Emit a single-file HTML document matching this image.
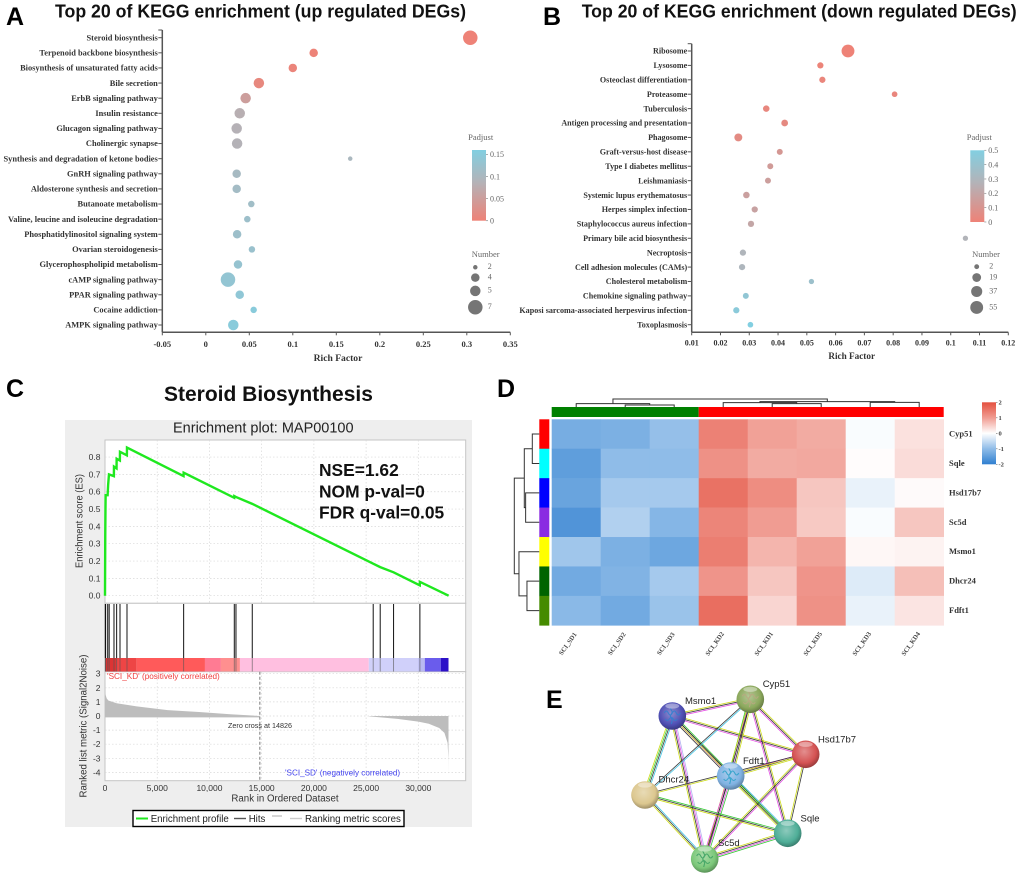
<!DOCTYPE html>
<html lang="en">
<head>
<meta charset="utf-8">
<title>KEGG enrichment, GSEA, heatmap and network figure</title>
<style>
html,body{margin:0;padding:0;background:#fff;}
svg{display:block;filter:blur(0.35px);}
.sans{font-family:"Liberation Sans",Arial,sans-serif;}
.serif{font-family:"Liberation Serif","Times New Roman",serif;}
</style>
</head>
<body>
<svg id="figure" xmlns="http://www.w3.org/2000/svg" width="1020" height="880" viewBox="0 0 1020 880">
  <defs>
    <linearGradient id="padjGrad" x1="0" y1="1" x2="0" y2="0">
      <stop offset="0" stop-color="#ee8277"/>
      <stop offset="0.55" stop-color="#b3b3b8"/>
      <stop offset="1" stop-color="#82cfe1"/>
    </linearGradient>
    <linearGradient id="heatGrad" x1="0" y1="0" x2="0" y2="1">
      <stop offset="0" stop-color="#e4503f"/>
      <stop offset="0.25" stop-color="#f09c92"/>
      <stop offset="0.5" stop-color="#ffffff"/>
      <stop offset="0.75" stop-color="#8fbce8"/>
      <stop offset="1" stop-color="#2f7fd0"/>
    </linearGradient>
  </defs>
  <rect x="0" y="0" width="1020" height="880" fill="#fff"/>

  <text class="sans" x="6" y="25" font-size="25" font-weight="700" fill="#000">A</text>
  <text class="sans" x="543" y="25" font-size="25" font-weight="700" fill="#000">B</text>
  <text class="sans" x="6" y="397" font-size="25" font-weight="700" fill="#000">C</text>
  <text class="sans" x="497" y="397" font-size="25" font-weight="700" fill="#000">D</text>
  <text class="sans" x="546" y="708" font-size="25" font-weight="700" fill="#000">E</text>

  <text class="sans" x="55" y="17.5" font-size="18.5" font-weight="700" fill="#111" textLength="411" lengthAdjust="spacingAndGlyphs">Top 20 of KEGG enrichment (up regulated DEGs)</text>
  <text class="sans" x="581.7" y="17.5" font-size="18.5" font-weight="700" fill="#111" textLength="435" lengthAdjust="spacingAndGlyphs">Top 20 of KEGG enrichment (down regulated DEGs)</text>
  <text class="sans" x="164" y="401" font-size="21" font-weight="700" fill="#111">Steroid Biosynthesis</text>

  <g id="panelA"></g>
  <g id="panelB"></g>

  <g>
    <rect x="65" y="420" width="407" height="407" fill="#eeeeee"/>
    <text class="sans" x="263.3" y="432.5" font-size="14.5" text-anchor="middle" fill="#222">Enrichment plot: MAP00100</text>
    <rect x="105" y="440" width="360.7" height="163.3" fill="#fff" stroke="#c4c4c4" stroke-width="1"/>
    <rect x="105" y="603.3" width="360.7" height="68.4" fill="#fff" stroke="#c4c4c4" stroke-width="1"/>
    <rect x="105" y="671.7" width="360.7" height="109" fill="#fff" stroke="#c4c4c4" stroke-width="1"/>
    <g id="gseaGrid"></g>
    <g id="gseaMetric"></g>
    <g id="gseaBands"></g>
    <g id="gseaHits"></g>
    <g id="gseaLine"></g>
    <g id="gseaTicks"></g>
    <text class="sans" transform="translate(82.5,521) rotate(-90)" font-size="9.8" text-anchor="middle" fill="#333" textLength="94" lengthAdjust="spacingAndGlyphs">Enrichment score (ES)</text>
    <text class="sans" transform="translate(86.5,726) rotate(-90)" font-size="9.8" text-anchor="middle" fill="#333" textLength="143" lengthAdjust="spacingAndGlyphs">Ranked list metric (Signal2Noise)</text>
    <text class="sans" x="285" y="801.5" font-size="9.7" text-anchor="middle" fill="#333">Rank in Ordered Dataset</text>
    <text class="sans" x="107" y="679" font-size="8.2" fill="#f04040">'SCI_KD' (positively correlated)</text>
    <text class="sans" x="285" y="775.7" font-size="8.15" fill="#4444ee">'SCI_SD' (negatively correlated)</text>
    <text class="sans" x="260" y="728.2" font-size="7.2" text-anchor="middle" fill="#333">Zero cross at 14826</text>
    <text class="sans" x="319" y="476" font-size="17.4" font-weight="700" fill="#111">NSE=1.62</text>
    <text class="sans" x="319" y="497.7" font-size="17.4" font-weight="700" fill="#111">NOM p-val=0</text>
    <text class="sans" x="319" y="518.5" font-size="17.4" font-weight="700" fill="#111">FDR q-val=0.05</text>
    <g>
      <rect x="133" y="810.5" width="271" height="16" fill="#fff" stroke="#000" stroke-width="1.4"/>
      <line x1="136" y1="818.5" x2="148" y2="818.5" stroke="#1fe81f" stroke-width="2"/>
      <text class="sans" x="150.7" y="822" font-size="9.7" fill="#222">Enrichment profile</text>
      <line x1="234" y1="818.5" x2="246" y2="818.5" stroke="#555" stroke-width="1.4"/>
      <text class="sans" x="248.7" y="822" font-size="9.7" fill="#222">Hits</text>
      <line x1="272" y1="816" x2="282" y2="816" stroke="#999" stroke-width="0.8"/>
      <line x1="290" y1="818.5" x2="302" y2="818.5" stroke="#ccc" stroke-width="1.4"/>
      <text class="sans" x="305" y="822" font-size="9.7" fill="#222">Ranking metric scores</text>
    </g>
  </g>

  <g id="panelD"></g>
  <g id="panelE"></g>
</svg>

<script>
/* ---------- Panel A data ---------- */
const upCategories = ["Steroid biosynthesis","Terpenoid backbone biosynthesis","Biosynthesis of unsaturated fatty acids","Bile secretion","ErbB signaling pathway","Insulin resistance","Glucagon signaling pathway","Cholinergic synapse","Synthesis and degradation of ketone bodies","GnRH signaling pathway","Aldosterone synthesis and secretion","Butanoate metabolism","Valine, leucine and isoleucine degradation","Phosphatidylinositol signaling system","Ovarian steroidogenesis","Glycerophospholipid metabolism","cAMP signaling pathway","PPAR signaling pathway","Cocaine addiction","AMPK signaling pathway"];
const upRichFactor = [0.304,0.124,0.1,0.061,0.0458,0.039,0.0355,0.036,0.166,0.0355,0.0355,0.0523,0.0477,0.036,0.053,0.037,0.0255,0.039,0.055,0.0316];
const upNumber = [7,4,4,5,5,5,5,5,2,4,4,3,3,4,3,4,7,4,3,5];
const upPadjust = [0,0.002,0.005,0.01,0.05,0.08,0.085,0.086,0.1,0.105,0.11,0.115,0.12,0.12,0.125,0.13,0.135,0.14,0.15,0.15];
const upXTicks = [-0.05,0,0.05,0.1,0.15,0.2,0.25,0.3,0.35];
const upPadjustTicks = [0,0.05,0.1,0.15];
const upNumberLegend = [2,4,5,7];

/* ---------- Panel B data ---------- */
const downCategories = ["Ribosome","Lysosome","Osteoclast differentiation","Proteasome","Tuberculosis","Antigen processing and presentation","Phagosome","Graft-versus-host disease","Type I diabetes mellitus","Leishmaniasis","Systemic lupus erythematosus","Herpes simplex infection","Staphylococcus aureus infection","Primary bile acid biosynthesis","Necroptosis","Cell adhesion molecules (CAMs)","Cholesterol metabolism","Chemokine signaling pathway","Kaposi sarcoma-associated herpesvirus infection","Toxoplasmosis"];
const downRichFactor = [0.0643,0.0547,0.0554,0.0805,0.0359,0.0423,0.0262,0.0406,0.0373,0.0365,0.029,0.0319,0.0306,0.1051,0.0278,0.0275,0.0516,0.0288,0.0255,0.0304];
const downNumber = [55,6,6,4,7,8,14,5,5,5,7,6,6,3,6,6,3,5,6,4];
const downPadjust = [0,0.01,0.02,0.025,0.03,0.04,0.05,0.12,0.14,0.16,0.17,0.18,0.2,0.28,0.29,0.3,0.38,0.43,0.46,0.5];
const downXTicks = [0.01,0.02,0.03,0.04,0.05,0.06,0.07,0.08,0.09,0.1,0.11,0.12];
const downPadjustTicks = [0,0.1,0.2,0.3,0.4,0.5];
const downNumberLegend = [2,19,37,55];

/* ---------- Panel C data ---------- */
const esRanks = [0,25,45,60,250,300,380,850,860,1105,1115,1425,1435,2095,2105,7520,7530,12370,12380,12530,14100,25680,26350,27630,30140,30150,32900];
const esValues = [0,0.35,0.5,0.58,0.58,0.64,0.7,0.69,0.745,0.735,0.79,0.78,0.83,0.81,0.855,0.69,0.71,0.565,0.575,0.57,0.53,0.185,0.165,0.135,0.06,0.08,0];
const hitRanks = [30,60,260,400,860,1115,1435,2105,7530,12380,12540,14100,25680,26350,27630,30150];
const bandEdges = [0,1115,3030,9570,11100,12920,25260,29990,30620,32150,32890];
const bandColors = ["#dc3434","#ee4545","#ff5a5a","#ff7b93","#ff8f8f","#ffbfe0","#d0d0fa","#b9b9f2","#6a5cec","#2c10c8"];
const posMetricRanks = [0,20,60,160,320,1115,3030,6000,9000,12000,14826];
const posMetricValues = [2.4,1.9,1.5,1.25,1.1,0.9,0.68,0.42,0.28,0.12,0];
const negMetricRanks = [25300,28000,30000,31000,32000,32500,32800,32880,32890];
const negMetricValues = [-0.03,-0.2,-0.4,-0.55,-0.85,-1.2,-1.9,-3,-4.2];
const zeroCrossRank = 14826;
const rankTicks = [0,5000,10000,15000,20000,25000,30000];
const esTicks = [0,0.1,0.2,0.3,0.4,0.5,0.6,0.7,0.8];
const metricTicks = [3,2,1,0,-1,-2,-3,-4];

/* ---------- Panel D data ---------- */
const heatColumns = ["SCI_SD1","SCI_SD2","SCI_SD3","SCI_KD2","SCI_KD1","SCI_KD5","SCI_KD3","SCI_KD4"];
const heatGenes = ["Cyp51","Sqle","Hsd17b7","Sc5d","Msmo1","Dhcr24","Fdft1"];
const heatValues = [
  [-1.25,-1.2,-0.95,1.35,0.95,0.85,-0.05,0.3],
  [-1.5,-1,-1,1.15,0.85,0.88,0.03,0.35],
  [-1.4,-0.8,-0.8,1.55,1.2,0.58,-0.2,0.05],
  [-1.65,-0.7,-1.1,1.3,1,0.55,-0.05,0.58],
  [-0.85,-1.2,-1.35,1.4,0.75,0.95,0.08,0.12],
  [-1.3,-1.15,-0.8,1.1,0.58,1.1,-0.3,0.65],
  [-1.05,-1.3,-0.9,1.6,0.42,1.15,-0.2,0.27]
];
const heatTicks = [2,1,0,-1,-2];
const rowGroupColors = ["#ff0000","#00ffff","#0000ff","#8a2be2","#ffff00","#006400","#458b00"];
const colGroupCounts = [3,5];
const colGroupColors = ["#008000","#ff0000"];
/* dendrograms: [height, left, right]; a bare number is a leaf index */
const colTree = [24,[10,0,[6,1,2]],[16,[13,3,[10,4,5]],[14,6,7]]];
const rowTree = [75,[45,[21,0,1],[41,2,3]],[61,4,[37,5,6]]];

/* ---------- Panel E data ---------- */
const netNodes = ["Msmo1","Cyp51","Hsd17b7","Fdft1","Dhcr24","Sqle","Sc5d"];
const netNodeColors = ["#4f4fb4","#8ba85c","#d45252","#80b2e2","#dcc78f","#4fae98","#7cc87a"];
const netStructureColors = ["#2f7fd0","#b8a880","","#2aa0c8","","","#3aa060"];
const netEdges = [
  ["Msmo1","Cyp51","ybm"],["Msmo1","Hsd17b7","ybm"],["Msmo1","Fdft1","gbmb"],["Msmo1","Dhcr24","cbgy"],
  ["Msmo1","Sc5d","lmby"],["Msmo1","Sqle","by"],["Cyp51","Hsd17b7","ybm"],["Cyp51","Fdft1","ybmg"],
  ["Cyp51","Dhcr24","cb"],["Cyp51","Sqle","ybm"],["Cyp51","Sc5d","by"],["Hsd17b7","Fdft1","ybm"],
  ["Hsd17b7","Dhcr24","yb"],["Hsd17b7","Sqle","by"],["Hsd17b7","Sc5d","mby"],["Fdft1","Sqle","cgby"],
  ["Fdft1","Sc5d","gmbm"],["Dhcr24","Sqle","gby"],["Dhcr24","Sc5d","cby"],["Sqle","Sc5d","gmby"]
];
const netEdgeColorKey = {y:"#c8d800",b:"#222222",m:"#e23ce2",g:"#22c422",c:"#2fbfe2",l:"#aaa8ee"};

/* ---------- helpers ---------- */
const SVGNS = "http://www.w3.org/2000/svg";
function add(parent, tag, attrs, text) {
  const node = document.createElementNS(SVGNS, tag);
  for (const k in attrs) node.setAttribute(k, attrs[k]);
  if (text !== undefined) node.textContent = text;
  parent.appendChild(node);
  return node;
}
function hex(c){return [parseInt(c.slice(1,3),16),parseInt(c.slice(3,5),16),parseInt(c.slice(5,7),16)];}
function mix(a,b,t){const p=hex(a),q=hex(b);return "rgb("+p.map((v,i)=>Math.round(v+(q[i]-v)*t)).join(",")+")";}
function padjColor(t){
  t=Math.max(0,Math.min(1,t));
  return t<0.55?mix("#ee8277","#b3b3b8",t/0.55):mix("#b3b3b8","#82cfe1",(t-0.55)/0.45);
}
function heatColor(v){
  const stops=[[-2,"#2f7fd0"],[-1,"#8fbce8"],[0,"#ffffff"],[1,"#f09c92"],[2,"#e4503f"]];
  v=Math.max(-2,Math.min(2,v));
  for(let i=0;i<4;i++){ if(v<=stops[i+1][0]) return mix(stops[i][1],stops[i+1][1],v-stops[i][0]); }
  return stops[4][1];
}

/* ---------- Panels A & B ---------- */
function drawBubblePanel(root, categories, rich, number, padj, xTicks, padjTicks, numberLegend, g) {
  const xScale = v => g.x0 + (v - xTicks[0]) / (xTicks[xTicks.length-1] - xTicks[0]) * (g.x1 - g.x0);
  const yScale = i => g.rowTop + i * (g.rowBottom - g.rowTop) / (categories.length - 1);
  const padjMax = g.padjMax;

  let el = add(root,"line",{x1:g.x0,y1:g.axisTop,x2:g.x0,y2:g.axisBottom,stroke:"#555","stroke-width":1.5});
  
  
  el = add(root,"line",{x1:g.x0,y1:g.axisBottom,x2:g.x1,y2:g.axisBottom,stroke:"#555","stroke-width":1.5});
  
  
  el = add(root,"line",{x1:g.x0-4,y1:g.axisTop,x2:g.x0,y2:g.axisTop,stroke:"#555","stroke-width":1});
  
  

  xTicks.forEach(t => {
    const tick = add(root,"line",{x1:xScale(t),y1:g.axisBottom,x2:xScale(t),y2:g.axisBottom+3,stroke:"#555","stroke-width":1});
    
    
    const lab = add(root,"text",{x:xScale(t),y:g.tickLabelY,"font-size":g.tickFont,"font-weight":700,"text-anchor":"middle",fill:"#333",class:"serif"},String(t));
    
    
  });

  categories.forEach((name,i) => {
    const tick = add(root,"line",{x1:g.x0-4,y1:yScale(i),x2:g.x0,y2:yScale(i),stroke:"#555","stroke-width":1});
    
    
    const lab = add(root,"text",{x:g.x0-g.labelGap,y:yScale(i)+2.7,"font-size":g.labelFont,"font-weight":700,"text-anchor":"end",fill:"#333",class:"serif"},name);
    
    
    const bubble = add(root,"circle",{cx:xScale(rich[i]),cy:yScale(i),r:g.size(number[i])/2,fill:padjColor(padj[i]/padjMax)});
    
    
  });

  el = add(root,"text",{x:g.titleX,y:g.titleY,"font-size":g.titleFont,"font-weight":700,"text-anchor":"middle",fill:"#333",class:"serif"},"Rich Factor");
  
  

  el = add(root,"text",{x:g.legendCx,y:140,"font-size":8.5,"text-anchor":"middle",fill:"#666",class:"serif"},"Padjust");
  
  
  el = add(root,"rect",{x:g.barX,y:g.barTop,width:14,height:g.barBottom-g.barTop,fill:"url(#padjGrad)"});
  
  
  padjTicks.forEach(t => {
    const y = g.barBottom - t/padjMax*(g.barBottom-g.barTop);
    const tick = add(root,"line",{x1:g.barX+14,y1:y,x2:g.barX+16,y2:y,stroke:"#888","stroke-width":0.7});
    
    
    const lab = add(root,"text",{x:g.barX+18,y:y+2.8,"font-size":8,fill:"#666",class:"serif"},String(t));
    
    
  });

  el = add(root,"text",{x:g.numTitleX,y:257,"font-size":8.5,"text-anchor":"middle",fill:"#666",class:"serif"},"Number");
  
  
  let cy = g.numTop, prev = null;
  numberLegend.forEach(n => {
    const d = g.size(n);
    if (prev !== null) cy += (prev + d)/2 + g.numGap;
    prev = d;
    const dot = add(root,"circle",{cx:g.numX,cy:cy,r:d/2,fill:"#757575"});
    
    
    const lab = add(root,"text",{x:g.numX+12.5,y:cy+1.8,"font-size":8,fill:"#666",class:"serif"},String(n));
    
    
  });
}
drawBubblePanel(document.getElementById("panelA"),upCategories,upRichFactor,upNumber,upPadjust,upXTicks,upPadjustTicks,upNumberLegend,{
  x0:162.3,x1:510.3,axisTop:30,axisBottom:332.3,rowTop:37.7,rowBottom:325,labelGap:4.5,tickLabelY:347,titleX:338,titleY:361,
  labelFont:8.4,tickFont:8.5,titleFont:9.6,
  padjMax:0.16,legendCx:480.7,barX:472,barTop:150,barBottom:220.7,numTitleX:485.7,numX:475.3,numTop:267.3,numGap:3.8,
  size:n=>4.5+2*(n-2)
});
drawBubblePanel(document.getElementById("panelB"),downCategories,downRichFactor,downNumber,downPadjust,downXTicks,downPadjustTicks,downNumberLegend,{
  x0:691.7,x1:1008.3,axisTop:43.7,axisBottom:332.3,rowTop:51,rowBottom:324.7,labelGap:4.5,tickLabelY:345.5,titleX:851.7,titleY:359,
  labelFont:8.1,tickFont:8,titleFont:9.2,
  padjMax:0.5,legendCx:979.3,barX:970.3,barTop:150.3,barBottom:222,numTitleX:986,numX:976.7,numTop:266.7,numGap:4,
  size:n=>3+1.33*Math.sqrt(n)
});

/* ---------- Panel C ---------- */
const rankX = r => 105 + r * 0.010444;
const esY = v => 595.7 - v * 173.3;
const metricY = v => 716 - v * 14.1;
(function drawGsea(){
  const grid = document.getElementById("gseaGrid");
  const ticks = document.getElementById("gseaTicks");
  rankTicks.slice(1).forEach(r => {
    const a = add(grid,"line",{x1:rankX(r),y1:440,x2:rankX(r),y2:603,stroke:"#d8d8d8","stroke-width":0.7,"stroke-dasharray":"1.5 2"});
    
    
    const b = add(grid,"line",{x1:rankX(r),y1:672,x2:rankX(r),y2:780,stroke:"#d8d8d8","stroke-width":0.7,"stroke-dasharray":"1.5 2"});
    
    
  });
  rankTicks.forEach(r => {
    const lab = add(ticks,"text",{x:rankX(r),y:790.8,"font-size":8.5,"text-anchor":"middle",fill:"#333",class:"sans"},r.toLocaleString("en-US"));
    
    
  });
  esTicks.forEach(v => {
    const a = add(grid,"line",{x1:105,y1:esY(v),x2:465.7,y2:esY(v),stroke:"#d8d8d8","stroke-width":0.7,"stroke-dasharray":"1.5 2"});
    
    
    const lab = add(ticks,"text",{x:100.5,y:esY(v)+3,"font-size":8.5,"text-anchor":"end",fill:"#333",class:"sans"},v.toFixed(1));
    
    
  });
  metricTicks.forEach(v => {
    const a = add(grid,"line",{x1:105,y1:metricY(v),x2:465.7,y2:metricY(v),stroke:"#d8d8d8","stroke-width":0.7,"stroke-dasharray":"1.5 2"});
    
    
    const lab = add(ticks,"text",{x:100.5,y:metricY(v)+3,"font-size":8.5,"text-anchor":"end",fill:"#333",class:"sans"},String(v));
    
    
  });

  const metricG = document.getElementById("gseaMetric");
  let posPts = posMetricRanks.map((r,i)=>rankX(r)+","+metricY(posMetricValues[i]));
  posPts.push(rankX(zeroCrossRank)+","+metricY(-0.1), rankX(0)+","+metricY(-0.1));
  let el = add(metricG,"polygon",{points:posPts.join(" "),fill:"#bdbdbd"});
  
  
  let negPts = negMetricRanks.map((r,i)=>rankX(r)+","+metricY(negMetricValues[i]));
  negPts.push(rankX(negMetricRanks[negMetricRanks.length-1])+","+metricY(0), rankX(negMetricRanks[0])+","+metricY(0));
  el = add(metricG,"polygon",{points:negPts.join(" "),fill:"#bdbdbd"});
  
  
  el = add(metricG,"line",{x1:rankX(zeroCrossRank),y1:671.7,x2:rankX(zeroCrossRank),y2:780.7,stroke:"#777","stroke-width":1,"stroke-dasharray":"3 2"});
  
  

  const bands = document.getElementById("gseaBands");
  bandColors.forEach((c,i) => {
    const b = add(bands,"rect",{x:rankX(bandEdges[i]),y:658,width:rankX(bandEdges[i+1])-rankX(bandEdges[i]),height:13.5,fill:c});
    
    
  });

  const hits = document.getElementById("gseaHits");
  hitRanks.forEach(r => {
    const h = add(hits,"line",{x1:rankX(r),y1:604,x2:rankX(r),y2:658,stroke:"#111","stroke-width":1});
    
    
    const o = add(hits,"line",{x1:rankX(r),y1:658,x2:rankX(r),y2:671.5,stroke:"#555","stroke-opacity":0.65,"stroke-width":0.9});
    
    
  });

  const pts = esRanks.map((r,i)=>rankX(r)+","+esY(esValues[i])).join(" ");
  el = add(document.getElementById("gseaLine"),"polyline",{points:pts,fill:"none",stroke:"#1fe81f","stroke-width":2.4,"stroke-linejoin":"miter"});
  
  
})();

/* ---------- Panel D ---------- */
(function drawHeatmap(){
  const root = document.getElementById("panelD");
  const left=551.7, top=419.3, cw=49, rh=29.43;
  const colX = j => left + j*cw;
  const rowY = i => top + i*rh;

  let cum = 0;
  colGroupCounts.forEach((n,k) => {
    const r = add(root,"rect",{x:colX(cum),y:407,width:n*cw,height:10,fill:colGroupColors[k]});
    
    
    cum += n;
  });
  rowGroupColors.forEach((c,i) => {
    const r = add(root,"rect",{x:539.3,y:rowY(i),width:10,height:rh+0.3,fill:c});
    
    
  });
  heatValues.forEach((row,i) => row.forEach((v,j) => {
    const cell = add(root,"rect",{x:colX(j),y:rowY(i),width:cw+0.3,height:rh+0.3,fill:heatColor(v)});
    
    
  }));
  heatGenes.forEach((g,i) => {
    const t = add(root,"text",{x:949,y:rowY(i)+rh/2+2.5,"font-size":8.5,"font-weight":700,fill:"#333",class:"serif"},g);
    
    
  });
  heatColumns.forEach((c,j) => {
    const cx = colX(j)+cw/2-6.7;
    const t = add(root,"text",{transform:"translate("+cx+",645) rotate(-55)","font-size":6.6,"font-weight":700,"text-anchor":"middle",fill:"#444",class:"serif"},c);
    
    
  });

  function drawColNode(node){
    if (typeof node === "number") return {x:colX(node)+cw/2, y:407};
    const a = drawColNode(node[1]), b = drawColNode(node[2]);
    const y = 407 - node[0]/3;
    const p = add(root,"path",{d:"M"+a.x+" "+a.y+"V"+y+"H"+b.x+"V"+b.y,fill:"none",stroke:"#333","stroke-width":1});
    
    
    return {x:(a.x+b.x)/2,y:y};
  }
  drawColNode(colTree);
  function drawRowNode(node){
    if (typeof node === "number") return {y:rowY(node)+rh/2, x:539.3};
    const a = drawRowNode(node[1]), b = drawRowNode(node[2]);
    const x = 539.3 - node[0]/3;
    const p = add(root,"path",{d:"M"+a.x+" "+a.y+"H"+x+"V"+b.y+"H"+b.x,fill:"none",stroke:"#333","stroke-width":1});
    
    
    return {x:x,y:(a.y+b.y)/2};
  }
  drawRowNode(rowTree);

  let el = add(root,"rect",{x:982,y:402.3,width:14,height:62,fill:"url(#heatGrad)"});
  
  
  heatTicks.forEach(v => {
    const y = 433.3 - v*15.5;
    const tick = add(root,"line",{x1:996,y1:y,x2:997.5,y2:y,stroke:"#666","stroke-width":0.6});
    
    
    const t = add(root,"text",{x:998.5,y:y+2.2,"font-size":6.5,"font-weight":700,fill:"#444",class:"serif"},String(v));
    
    
  });
})();

/* ---------- Panel E ---------- */
(function drawNetwork(){
  const root = document.getElementById("panelE");
  const defs = document.querySelector("defs");
  const pos = {Msmo1:[672.3,716],Cyp51:[750.3,699.3],Hsd17b7:[805.7,754.3],Fdft1:[730.7,776],Dhcr24:[645,795],Sqle:[787.7,833.3],Sc5d:[704.7,859]};
  const labelPos = {Msmo1:[685,704],Cyp51:[762.7,687],Hsd17b7:[818,742.5],Fdft1:[743,764],Dhcr24:[658.5,782.5],Sqle:[800.5,821.5],Sc5d:[718,846]};
  netEdges.forEach(e => {
    const a = pos[e[0]], b = pos[e[1]], cols = e[2].split("");
    const dx = b[0]-a[0], dy = b[1]-a[1], len = Math.hypot(dx,dy);
    const nx = -dy/len, ny = dx/len, spacing = 1.35;
    cols.forEach((k,i) => {
      const off = (i-(cols.length-1)/2)*spacing;
      const l = add(root,"line",{x1:a[0]+nx*off,y1:a[1]+ny*off,x2:b[0]+nx*off,y2:b[1]+ny*off,stroke:netEdgeColorKey[k],"stroke-width":0.8,"stroke-opacity":0.9});
      
      
    });
  });
  netNodes.forEach((name,i) => {
    const c = netNodeColors[i];
    const grad = add(defs,"radialGradient",{id:"node"+i,cx:"0.45",cy:"0.4",r:"0.65"});
    add(grad,"stop",{offset:"0","stop-color":mix(c,"#ffffff",0.35)});
    add(grad,"stop",{offset:"0.65","stop-color":c});
    add(grad,"stop",{offset:"1","stop-color":mix(c,"#000000",0.35)});
    const n = add(root,"circle",{cx:pos[name][0],cy:pos[name][1],r:13.8,fill:"url(#node"+i+")"});
    
    
    if (netStructureColors[i]) {
      const s = add(root,"path",{transform:"translate("+pos[name][0]+","+pos[name][1]+")",d:"M-8 -3q2 -4 4 0t4 0t4 0t4 0M-7 3q2 3 4 0t4 0t4 0M-2 -8l2 4l-2 4l2 4l-1 4",fill:"none",stroke:netStructureColors[i],"stroke-width":1.1,"stroke-opacity":0.85});
      
      
    }
    const hl = add(root,"ellipse",{cx:pos[name][0],cy:pos[name][1]-10,rx:7,ry:2.6,fill:"#fff","fill-opacity":0.4});
    
    
    const t = add(root,"text",{x:labelPos[name][0],y:labelPos[name][1],"font-size":9.5,fill:"#222",class:"sans"},name);
    
    
  });
})();
</script>
</body>
</html>
